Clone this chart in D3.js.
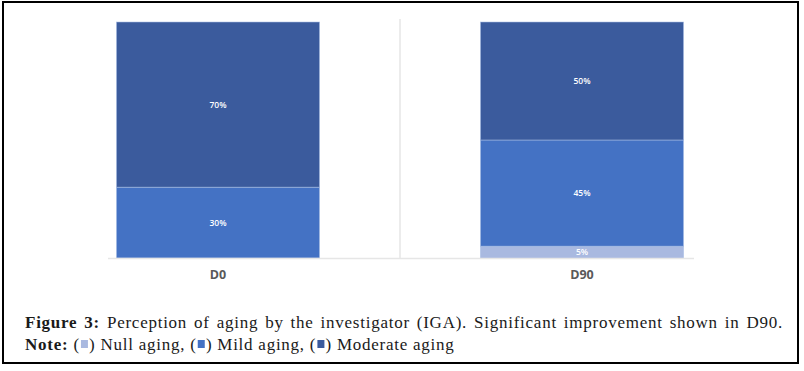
<!DOCTYPE html>
<html>
<head>
<meta charset="utf-8">
<script src="https://cdn.jsdelivr.net/npm/d3@7"></script>
<style>
  html, body { margin: 0; padding: 0; background: #fff; }
  svg { display: block; }
</style>
</head>
<body>
<svg id="chart" width="804" height="371"></svg>
<script>
const categories = ["D0", "D90"];
const seriesNames = ["Null aging", "Mild aging", "Moderate aging"];
const nullAging = [0, 5];
const mildAging = [30, 45];
const moderateAging = [70, 50];
const colors = ["#A9B9E0", "#4472C4", "#3B5B9D"];

const rows = categories.map((c, i) => ({
  cat: c,
  "Null aging": nullAging[i],
  "Mild aging": mildAging[i],
  "Moderate aging": moderateAging[i]
}));

const svg = d3.select("#chart");

// outer frame
svg.append("rect").attr("x", 3).attr("y", 2).attr("width", 795).attr("height", 361)
  .attr("fill", "none").attr("stroke", "#000").attr("stroke-width", 2);

const x = d3.scaleBand().domain(categories).range([36, 764])
  .paddingInner(0.442).paddingOuter(0.221);
const y = d3.scaleLinear().domain([0, 100]).range([258, 22]);

// separator
svg.append("line").attr("x1", 400).attr("x2", 400).attr("y1", 19).attr("y2", 258)
  .attr("stroke", "#e6e6e6").attr("stroke-width", 1.5);

const stack = d3.stack().keys(seriesNames)(rows);
const color = d3.scaleOrdinal().domain(seriesNames).range(colors);

const g = svg.append("g");
stack.forEach(layer => {
  layer.forEach(d => {
    const v = d[1] - d[0];
    if (v <= 0) return;
    g.append("rect")
      .attr("x", x(d.data.cat))
      .attr("y", y(d[1]))
      .attr("width", x.bandwidth())
      .attr("height", y(d[0]) - y(d[1]))
      .attr("fill", color(layer.key))
      .attr("stroke", "#a9bde6").attr("stroke-width", 0.8).attr("stroke-opacity", 0.7);
    g.append("text")
      .attr("x", x(d.data.cat) + x.bandwidth() / 2)
      .attr("y", (y(d[0]) + y(d[1])) / 2 + 3)
      .attr("text-anchor", "middle")
      .attr("font-family", "'Open Sans', sans-serif")
      .attr("font-size", 8.5).attr("font-weight", 600)
      .attr("fill", "#fff")
      .text(v + "%");
  });
});

// baseline
svg.append("line").attr("x1", 108).attr("x2", 694).attr("y1", 258.5).attr("y2", 258.5)
  .attr("stroke", "#e6e6e6").attr("stroke-width", 1.5);

// x axis labels
const xAxis = d3.axisBottom(x).tickSize(0).tickPadding(0);
const ax = svg.append("g").attr("transform", "translate(0,270)").call(xAxis);
ax.select(".domain").remove();
ax.selectAll("text")
  .attr("font-family", "'Open Sans', sans-serif")
  .attr("font-size", 12.5).attr("font-weight", 700).attr("fill", "#595959")
  .attr("dy", "0.71em");

// caption
const capFont = "'Liberation Serif', 'DejaVu Serif', serif";
const line1 = svg.append("text").attr("x", 25).attr("y", 328)
  .attr("font-family", capFont).attr("font-size", 17).attr("fill", "#1a1a1a");
line1.append("tspan").attr("font-weight", 700).text("Figure 3:");
line1.append("tspan").text(" Perception of aging by the investigator (IGA). Significant improvement shown in D90.");
// justify line 1 to width, mostly through letter spacing
const targetW = 756;
const w = line1.node().getComputedTextLength();
const nChars = line1.text().length;
const ls = (targetW - w) * 0.75 / nChars;
line1.attr("letter-spacing", ls);
const w1b = line1.node().getComputedTextLength();
line1.attr("word-spacing", (targetW - w1b) / 12);

const line2 = svg.append("text").attr("x", 25).attr("y", 350)
  .attr("font-family", capFont).attr("font-size", 17).attr("fill", "#1a1a1a")
  .attr("letter-spacing", ls);
line2.append("tspan").attr("font-weight", 700).text("Note: ");
const legendParts = [];
seriesNames.forEach((s, i) => {
  line2.append("tspan").text("(");
  legendParts.push(line2.append("tspan").text("\u2002"));
  line2.append("tspan").text(") " + s + (i < seriesNames.length - 1 ? ", " : ""));
});
const kids = Array.from(line2.node().childNodes);
legendParts.forEach((t, i) => {
  const n = t.node();
  const idx = kids.slice(0, kids.indexOf(n)).reduce((a, c) => a + c.textContent.length, 0);
  const ext = line2.node().getExtentOfChar(idx);
  svg.append("rect")
    .attr("x", ext.x + ext.width / 2 - 3.5).attr("y", 340)
    .attr("width", 7).attr("height", 8)
    .attr("fill", colors[i]);
});
</script>
</body>
</html>
